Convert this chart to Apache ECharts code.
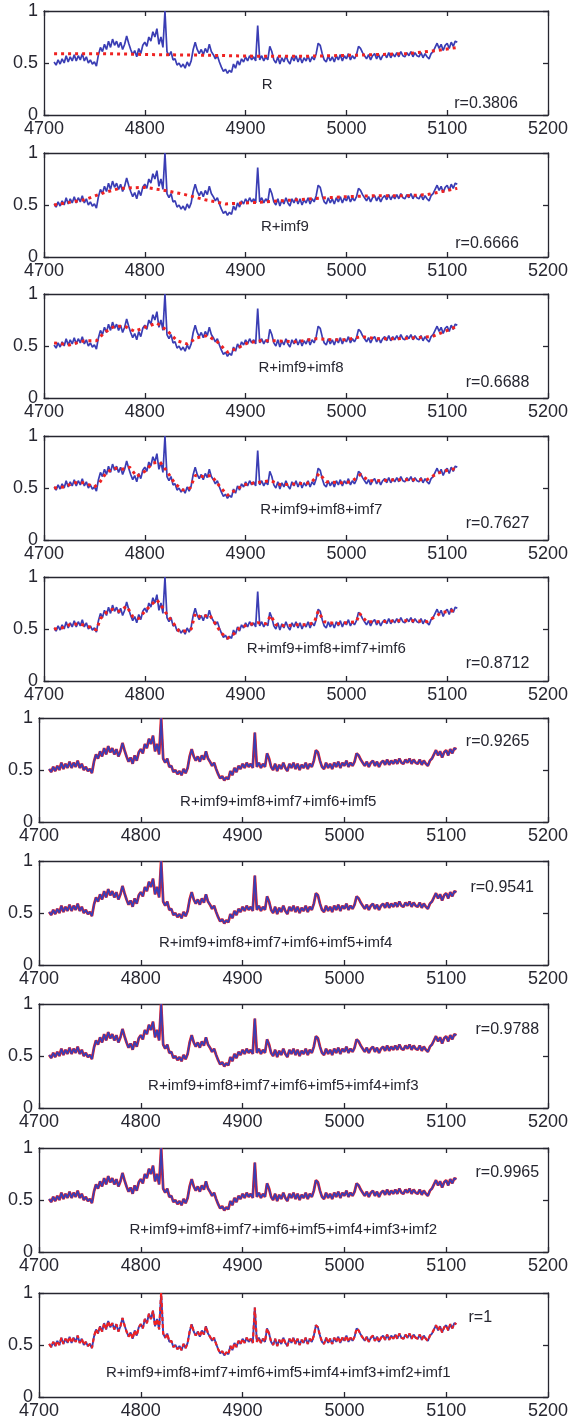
<!DOCTYPE html>
<html>
<head>
<meta charset="utf-8">
<script src="https://cdn.jsdelivr.net/npm/echarts@6/dist/echarts.min.js"></script>
<style>
  html, body { margin: 0; padding: 0; background: #fff; }
  #chart { width: 572px; height: 1420px; }
</style>
</head>
<body>
<div id="chart"></div>
<script>
  // measured signal, one sample every 2 units from 4710
  const xStart = 4710;
  const xStep = 2;
  const signal = [
    0.51, 0.48, 0.53, 0.49, 0.54, 0.50, 0.57, 0.51, 0.56, 0.52,
    0.58, 0.52, 0.57, 0.53, 0.59, 0.52, 0.56, 0.50, 0.53, 0.49,
    0.51, 0.47, 0.58, 0.65, 0.61, 0.68, 0.63, 0.71, 0.65, 0.73,
    0.67, 0.71, 0.65, 0.70, 0.63, 0.68, 0.76, 0.69, 0.63, 0.58,
    0.62, 0.56, 0.64, 0.59, 0.67, 0.70, 0.66, 0.75, 0.71, 0.80,
    0.75, 0.83, 0.68, 0.75, 0.65, 1.00, 0.61, 0.57, 0.61, 0.53,
    0.54, 0.48, 0.50, 0.46, 0.49, 0.45, 0.51, 0.47, 0.52, 0.63,
    0.70, 0.63, 0.59, 0.63, 0.58, 0.64, 0.60, 0.68, 0.61, 0.58,
    0.54, 0.57, 0.51, 0.46, 0.42, 0.44, 0.40, 0.43, 0.41, 0.49,
    0.45, 0.52, 0.48, 0.54, 0.51, 0.56, 0.52, 0.57, 0.53, 0.56,
    0.52, 0.86, 0.53, 0.57, 0.52, 0.56, 0.53, 0.66, 0.61, 0.53,
    0.50, 0.56, 0.49, 0.55, 0.51, 0.57, 0.52, 0.49, 0.56, 0.52,
    0.57, 0.51, 0.56, 0.50, 0.55, 0.52, 0.57, 0.51, 0.56, 0.53,
    0.59, 0.69, 0.67, 0.59, 0.53, 0.51, 0.57, 0.52, 0.56, 0.51,
    0.57, 0.53, 0.58, 0.52, 0.57, 0.54, 0.59, 0.53, 0.57, 0.54,
    0.58, 0.66, 0.64, 0.60, 0.57, 0.54, 0.58, 0.53, 0.57, 0.59,
    0.54, 0.58, 0.53, 0.57, 0.59, 0.55, 0.60, 0.55, 0.59, 0.56,
    0.60, 0.56, 0.61, 0.57, 0.56, 0.60, 0.57, 0.61, 0.56, 0.60,
    0.57, 0.56, 0.60, 0.55, 0.59, 0.56, 0.54, 0.59, 0.61, 0.65,
    0.69, 0.64, 0.68, 0.62, 0.67, 0.69, 0.64, 0.70, 0.66, 0.71,
    0.70
  ];

  // reconstructions (red), [x, value]
  const recR = [
    [4710, 0.59], [4760, 0.59], [4810, 0.58], [4860, 0.575], [4910, 0.565],
    [4960, 0.565], [5010, 0.575], [5060, 0.59], [5090, 0.62], [5110, 0.65]
  ];
  const recImf9 = [
    [4710, 0.50], [4740, 0.55], [4760, 0.62], [4775, 0.66], [4800, 0.67],
    [4820, 0.64], [4840, 0.60], [4860, 0.55], [4880, 0.51], [4900, 0.52],
    [4920, 0.53], [4950, 0.55], [4980, 0.57], [5000, 0.58], [5030, 0.59],
    [5060, 0.59], [5080, 0.60], [5095, 0.63], [5110, 0.66]
  ];
  const recImf8 = [
    [4710, 0.53], [4725, 0.51], [4740, 0.55], [4752, 0.55], [4760, 0.63],
    [4770, 0.69], [4780, 0.69], [4790, 0.64], [4800, 0.68], [4812, 0.72],
    [4822, 0.65], [4832, 0.55], [4842, 0.52], [4852, 0.58], [4862, 0.60],
    [4872, 0.54], [4882, 0.44], [4892, 0.48], [4902, 0.53], [4915, 0.55],
    [4930, 0.55], [4950, 0.54], [4970, 0.57], [4985, 0.56], [5000, 0.56],
    [5015, 0.59], [5030, 0.57], [5050, 0.57], [5070, 0.58], [5085, 0.59],
    [5100, 0.65], [5110, 0.69]
  ];
  const recImf7 = [
    [4710, 0.50], [4720, 0.51], [4730, 0.55], [4740, 0.55], [4750, 0.51],
    [4755, 0.55], [4762, 0.65], [4770, 0.69], [4778, 0.68], [4785, 0.70],
    [4792, 0.61], [4800, 0.66], [4808, 0.74], [4815, 0.75], [4822, 0.66],
    [4830, 0.54], [4838, 0.48], [4845, 0.50], [4850, 0.62], [4858, 0.61],
    [4866, 0.62], [4874, 0.52], [4882, 0.43], [4890, 0.48], [4898, 0.53],
    [4910, 0.55], [4925, 0.57], [4935, 0.53], [4950, 0.54], [4965, 0.55],
    [4973, 0.64], [4980, 0.56], [4995, 0.55], [5005, 0.56], [5014, 0.63],
    [5022, 0.57], [5035, 0.57], [5050, 0.58], [5065, 0.58], [5080, 0.58],
    [5090, 0.64], [5100, 0.67], [5110, 0.69]
  ];
  const recImf6 = [
    [4710, 0.50], [4718, 0.51], [4725, 0.54], [4735, 0.55], [4745, 0.52],
    [4752, 0.49], [4756, 0.60], [4762, 0.66], [4768, 0.69], [4775, 0.67],
    [4782, 0.72], [4788, 0.62], [4794, 0.60], [4800, 0.67], [4806, 0.73],
    [4812, 0.78], [4818, 0.70], [4822, 0.64], [4828, 0.56], [4834, 0.48],
    [4840, 0.48], [4846, 0.50], [4850, 0.65], [4856, 0.61], [4864, 0.64],
    [4870, 0.55], [4876, 0.46], [4882, 0.41], [4888, 0.45], [4894, 0.51],
    [4902, 0.54], [4912, 0.56], [4920, 0.55], [4925, 0.63], [4930, 0.54],
    [4940, 0.53], [4950, 0.54], [4960, 0.54], [4968, 0.56], [4972, 0.67],
    [4978, 0.57], [4990, 0.55], [5000, 0.56], [5010, 0.57], [5013, 0.65],
    [5020, 0.57], [5035, 0.57], [5050, 0.58], [5065, 0.58], [5080, 0.57],
    [5088, 0.62], [5095, 0.66], [5103, 0.67], [5110, 0.69]
  ];

  const panelLabels = [
    'R',
    'R+imf9',
    'R+imf9+imf8',
    'R+imf9+imf8+imf7',
    'R+imf9+imf8+imf7+imf6',
    'R+imf9+imf8+imf7+imf6+imf5',
    'R+imf9+imf8+imf7+imf6+imf5+imf4',
    'R+imf9+imf8+imf7+imf6+imf5+imf4+imf3',
    'R+imf9+imf8+imf7+imf6+imf5+imf4+imf3+imf2',
    'R+imf9+imf8+imf7+imf6+imf5+imf4+imf3+imf2+imf1'
  ];
  const corr = ['r=0.3806', 'r=0.6666', 'r=0.6688', 'r=0.7627', 'r=0.8712',
                'r=0.9265', 'r=0.9541', 'r=0.9788', 'r=0.9965', 'r=1'];

  const xTicks = [4700, 5200, 100];
  const yTicks = [0, 1, 0.5];

  // layout
  const W = 572;
  const tops = [11, 153, 294, 436, 577, 718, 861, 1004, 1148, 1293];
  const H = 104;
  const rightPad = 24;
  // annotation spots as fractions of the box [labelX, labelY, rX, rY]
  const spots = [
    [0.443, 0.71, 0.877, 0.89],
    [0.478, 0.71, 0.879, 0.87],
    [0.51, 0.71, 0.90, 0.85],
    [0.55, 0.71, 0.90, 0.84],
    [0.56, 0.69, 0.90, 0.83],
    [0.47, 0.81, 0.901, 0.23],
    [0.465, 0.79, 0.91, 0.26],
    [0.48, 0.79, 0.92, 0.25],
    [0.48, 0.79, 0.92, 0.24],
    [0.47, 0.77, 0.867, 0.24]
  ];

  const blue = '#3a3db4';
  const red = '#ee2222';
  const ink = '#262630';
  const font = '"Liberation Sans", Arial, sans-serif';

  const signalData = signal.map((v, i) => [xStart + i * xStep, v]);
  const recons = [recR, recImf9, recImf8, recImf7, recImf6,
                  signalData, signalData, signalData, signalData, signalData];

  const grids = [], xAxes = [], yAxes = [], series = [], texts = [];

  tops.forEach((top, i) => {
    const left = i < 5 ? 44 : 39;
    grids.push({ left: left, right: rightPad, top: top, height: H, containLabel: false });

    const xBase = {
      gridIndex: i, type: 'value', min: xTicks[0], max: xTicks[1], interval: xTicks[2],
      axisLine: { show: true, onZero: false, lineStyle: { color: ink, width: 1.3 } },
      axisTick: { show: true, inside: true, length: 5, lineStyle: { color: ink, width: 1.3 } },
      splitLine: { show: false }
    };
    xAxes.push(Object.assign({}, xBase, {
      position: 'bottom',
      axisLabel: { show: true, color: ink, fontSize: 18, fontFamily: font, margin: 5,
                   formatter: v => String(v) }
    }));
    xAxes.push(Object.assign({}, xBase, { position: 'top', axisLabel: { show: false } }));

    const yBase = {
      gridIndex: i, type: 'value', min: yTicks[0], max: yTicks[1], interval: yTicks[2],
      axisLine: { show: true, onZero: false, lineStyle: { color: ink, width: 1.3 } },
      axisTick: { show: true, inside: true, length: 5, lineStyle: { color: ink, width: 1.3 } },
      splitLine: { show: false }
    };
    yAxes.push(Object.assign({}, yBase, {
      position: 'left',
      axisLabel: { show: true, color: ink, fontSize: 18, fontFamily: font, margin: 6 }
    }));
    yAxes.push(Object.assign({}, yBase, { position: 'right', axisLabel: { show: false } }));

    const last = i === 9;
    const dense = i >= 5;
    series.push({
      type: 'line', xAxisIndex: 2 * i, yAxisIndex: 2 * i,
      data: signalData, showSymbol: false, silent: true,
      lineStyle: { color: blue, width: last ? 1.9 : 1.7 },
      z: dense && !last ? 3 : 2
    });
    series.push({
      type: 'line', xAxisIndex: 2 * i, yAxisIndex: 2 * i,
      data: recons[i], showSymbol: false, silent: true,
      lineStyle: last
        ? { color: red, width: 2.2, type: [4, 3] }
        : dense
          ? { color: red, width: 2.8, type: 'solid' }
          : { color: red, width: 3, type: [3, 4], cap: 'butt' },
      z: dense && !last ? 2 : 3
    });

    const boxW = W - rightPad - left;
    const s = spots[i];
    texts.push({
      x: left + s[0] * boxW, y: top + s[1] * H, text: panelLabels[i], size: 15
    });
    texts.push({
      x: left + s[2] * boxW, y: top + s[3] * H, text: corr[i], size: 16
    });
  });

  const chart = echarts.init(document.getElementById('chart'), null, { renderer: 'canvas' });
  chart.setOption({
    animation: false,
    backgroundColor: '#fff',
    grid: grids,
    xAxis: xAxes,
    yAxis: yAxes,
    series: series,
    graphic: texts.map(t => ({
      type: 'text', x: t.x, y: t.y, z: 100, silent: true,
      style: {
        text: t.text, font: t.size + 'px ' + font, fill: ink,
        textAlign: 'center', textVerticalAlign: 'middle'
      }
    }))
  });
</script>
</body>
</html>
